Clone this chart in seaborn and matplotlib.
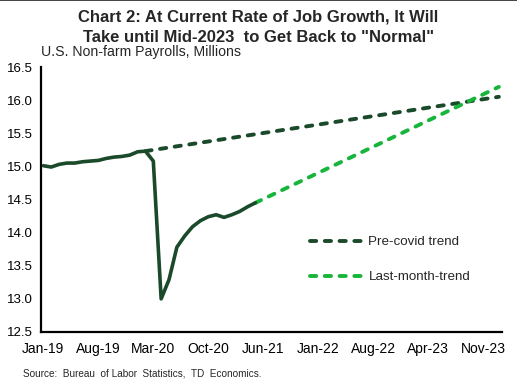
import matplotlib
matplotlib.use("Agg")
import matplotlib.pyplot as plt
import matplotlib.lines as mlines
import seaborn as sns
import pandas as pd

# monthly payrolls (category index 0 = Jan-19)
payrolls = [15.01, 14.99, 15.03, 15.05, 15.05, 15.07, 15.08, 15.09, 15.12, 15.14,
            15.15, 15.17, 15.22, 15.23, 15.08, 13.00, 13.29, 13.78, 13.95, 14.09,
            14.18, 14.24, 14.27, 14.23, 14.27, 14.32, 14.39, 14.45]
# trend lines: start / end points
precovid_idx = [13, 58]
precovid_val = [15.23, 16.05]
lastmonth_idx = [27, 58]
lastmonth_val = [14.45, 16.20]

tick_pos = [0, 7, 14, 21, 28, 35, 42, 49, 56]
tick_labels = ["Jan-19", "Aug-19", "Mar-20", "Oct-20", "Jun-21", "Jan-22", "Aug-22", "Apr-23", "Nov-23"]

dark = "#1B4A2B"
bright = "#17B53B"

sns.set_style("white")
plt.rcParams["font.family"] = ["Liberation Sans", "DejaVu Sans"]

df = pd.DataFrame({"idx": range(len(payrolls)), "val": payrolls})
df_pre = pd.DataFrame({"idx": precovid_idx, "val": precovid_val})
df_last = pd.DataFrame({"idx": lastmonth_idx, "val": lastmonth_val})

fig = plt.figure(figsize=(5.17, 3.86), dpi=100)
ax = fig.add_axes([41 / 517, 1 - 332 / 386, 461 / 517, 265 / 386])

dash = (0, (1.6, 2.2))
sns.lineplot(data=df_pre, x="idx", y="val", ax=ax, color=dark, linewidth=2.8,
             linestyle=dash, dash_capstyle="round")
sns.lineplot(data=df_last, x="idx", y="val", ax=ax, color=bright, linewidth=2.8,
             linestyle=dash, dash_capstyle="round")
sns.lineplot(data=df, x="idx", y="val", ax=ax, color=dark, linewidth=2.6)

ax.set_xlim(-0.3, 58.4)
ax.set_ylim(12.5, 16.5)
ax.set_yticks([12.5, 13.0, 13.5, 14.0, 14.5, 15.0, 15.5, 16.0, 16.5])
ax.set_yticklabels([f"{v:.1f}" for v in ax.get_yticks()])
ax.set_xticks(tick_pos)
ax.set_xticklabels(tick_labels)
ax.set_xlabel("")
ax.set_ylabel("")
ax.tick_params(axis="both", length=0, colors="black")
ax.tick_params(axis="y", pad=6, labelsize=9.5)
ax.tick_params(axis="x", pad=7, labelsize=10)
for s in ["top", "right"]:
    ax.spines[s].set_visible(False)
for s in ["left", "bottom"]:
    ax.spines[s].set_color("black")
    ax.spines[s].set_linewidth(1.6)

h1 = mlines.Line2D([], [], color=dark, linewidth=2.8, linestyle=dash, dash_capstyle="round")
h2 = mlines.Line2D([], [], color=bright, linewidth=2.8, linestyle=dash, dash_capstyle="round")
ax.legend([h1, h2], ["Pre-covid trend", "Last-month-trend"], loc="upper left",
          bbox_to_anchor=(0.583, 0.362), frameon=False, fontsize=9.6,
          handlelength=4.1, handletextpad=0.3, labelspacing=1.7,
          borderpad=0, borderaxespad=0)

fig.text(0.5, 1 - 17 / 386, "Chart 2: At Current Rate of Job Growth, It Will",
         ha="center", va="center", fontsize=12, fontweight="bold")
fig.text(0.5, 1 - 37 / 386, "Take until Mid-2023  to Get Back to \"Normal\"",
         ha="center", va="center", fontsize=12, fontweight="bold")
fig.text(41 / 517, 1 - 52 / 386, "U.S. Non-farm Payrolls, Millions",
         ha="left", va="center", fontsize=10.2)
fig.text(23 / 517, 1 - 373 / 386, "Source:  Bureau  of Labor  Statistics,  TD  Economics.",
         ha="left", va="center", fontsize=7.2)
fig.add_artist(mlines.Line2D([0, 1], [0.999, 0.999], transform=fig.transFigure,
                             color="#222222", linewidth=1.2))

fig.savefig("out.png", dpi=100)
